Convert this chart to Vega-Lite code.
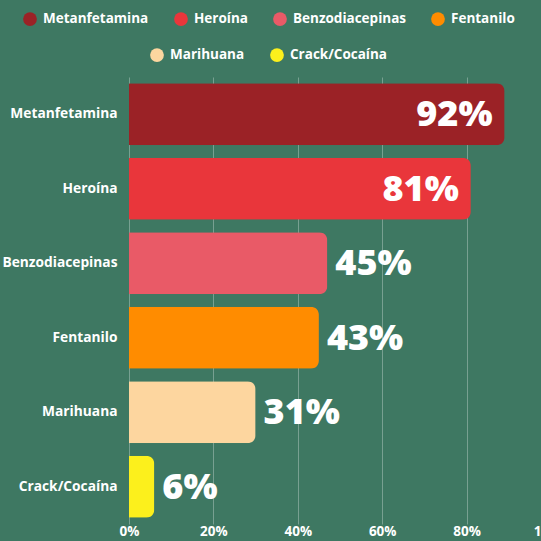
{
  "$schema": "https://vega.github.io/schema/vega-lite/v6.json",
  "width": 422,
  "height": 447,
  "autosize": {"type": "none"},
  "padding": {"left": 129, "top": 77, "right": 0, "bottom": 17},
  "background": "#3E7862",
  "config": {
    "view": {"stroke": null},
    "font": "Open Sans",
    "legend": {
      "labelFont": "Open Sans", "labelFontWeight": "bold", "labelFontSize": 13.5, "labelColor": "#FFFFFF",
      "symbolType": "circle", "symbolSize": 190, "symbolStrokeWidth": 0, "labelOffset": 6,
      "columnPadding": 25, "title": null, "orient": "none", "direction": "horizontal"
    }
  },
  "data": {"values": [
    {"drug": "Metanfetamina", "value": 89, "label": "92%"},
    {"drug": "Heroína", "value": 81, "label": "81%"},
    {"drug": "Benzodiacepinas", "value": 47, "label": "45%"},
    {"drug": "Fentanilo", "value": 45, "label": "43%"},
    {"drug": "Marihuana", "value": 30, "label": "31%"},
    {"drug": "Crack/Cocaína", "value": 6, "label": "6%"}
  ]},
  "encoding": {
    "y": {"field": "drug", "type": "nominal", "sort": null,
      "scale": {"paddingInner": 0.17, "paddingOuter": 0.085},
      "axis": {"title": null, "domain": false, "ticks": false, "labelPadding": 12,
        "labelColor": "#FFFFFF", "labelFont": "Open Sans", "labelFontWeight": "bold", "labelFontSize": 13.75}},
    "x": {"field": "value", "type": "quantitative",
      "scale": {"domain": [0, 100]},
      "axis": {"title": null, "domain": false, "ticks": false, "format": ".0f", "labelExpr": "datum.label + '%'",
        "values": [0, 20, 40, 60, 80, 100], "labelPadding": 0, "labelFlush": false, "labelOverlap": false,
        "labelColor": "#FFFFFF", "labelFont": "Open Sans", "labelFontWeight": "bold", "labelFontSize": 13.5,
        "gridColor": "#FFFFFF", "gridOpacity": 0.3, "gridWidth": 1}}
  },
  "layer": [
    {
      "mark": {"type": "bar", "cornerRadiusEnd": 8},
      "encoding": {
        "color": {"field": "drug", "type": "nominal",
          "scale": {"domain": ["Metanfetamina", "Heroína", "Benzodiacepinas", "Fentanilo", "Marihuana", "Crack/Cocaína"],
            "range": ["#9B2226", "#E9363B", "#E95A67", "#FF8C00", "#FDD69F", "#FCF01C"]},
          "legend": {"values": ["Metanfetamina", "Heroína", "Benzodiacepinas", "Fentanilo"], "legendX": -106, "legendY": -65}}
      }
    },
    {
      "transform": [{"filter": "datum.value >= 80 || datum.value <= 30"}],
      "mark": {"type": "point", "filled": true, "opacity": 0, "shape": "circle"},
      "encoding": {
        "fill": {"field": "drug", "type": "nominal",
          "scale": {"domain": ["Marihuana", "Crack/Cocaína", "Metanfetamina", "Heroína"],
            "range": ["#FDD69F", "#FCF01C", "#9B2226", "#E9363B"]},
          "legend": {"values": ["Marihuana", "Crack/Cocaína"], "legendX": 21, "legendY": -29}}
      }
    },
    {
      "transform": [{"filter": "datum.value > 60"}],
      "mark": {"type": "text", "align": "right", "baseline": "middle", "dx": -12, "dy": 1,
        "font": "Open Sans", "fontWeight": 800, "fontSize": 36, "color": "#FFFFFF"},
      "encoding": {"text": {"field": "label"}}
    },
    {
      "transform": [{"filter": "datum.value <= 60"}],
      "mark": {"type": "text", "align": "left", "baseline": "middle", "dx": 8, "dy": 1,
        "font": "Open Sans", "fontWeight": 800, "fontSize": 36, "color": "#FFFFFF"},
      "encoding": {"text": {"field": "label"}}
    }
  ],
  "resolve": {"scale": {"color": "independent", "fill": "independent"}}
}
